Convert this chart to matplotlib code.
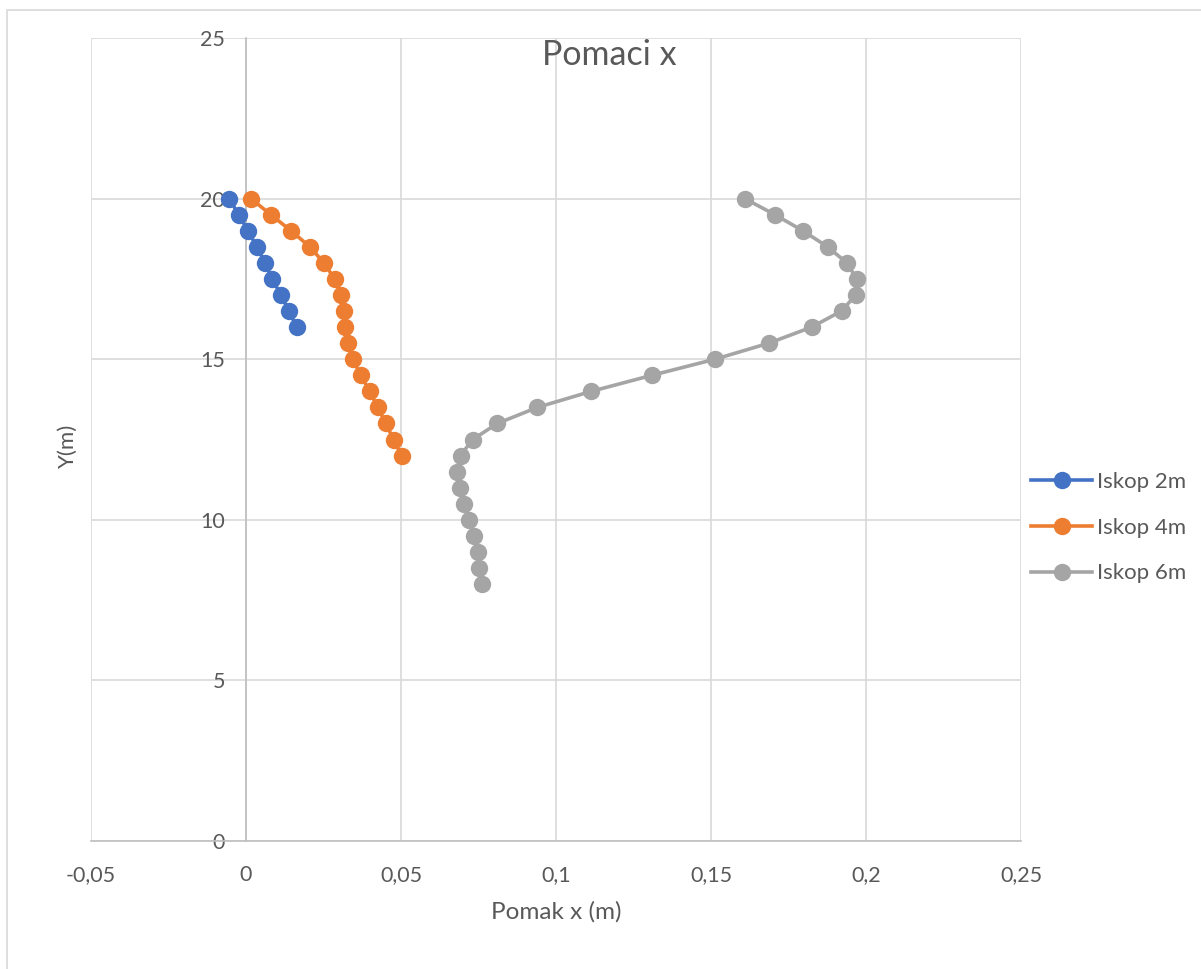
import matplotlib
matplotlib.use("Agg")
import matplotlib.pyplot as plt
from matplotlib.ticker import FuncFormatter, MultipleLocator
from matplotlib.patches import Rectangle

plt.rcParams['font.family'] = ['Lato', 'DejaVu Sans']

# ------------------------------
# DATA
# ------------------------------
y_2m = [20, 19.5, 19, 18.5, 18, 17.5, 17, 16.5, 16]
x_2m = [-0.0055, -0.0023, 0.0006, 0.0035, 0.0061, 0.0084, 0.0113, 0.0138, 0.0164]

y_4m = [20, 19.5, 19, 18.5, 18, 17.5, 17, 16.5, 16, 15.5, 15, 14.5, 14, 13.5, 13, 12.5, 12]
x_4m = [0.0016, 0.0080, 0.0145, 0.0206, 0.0251, 0.0286, 0.0306, 0.0315, 0.0319,
        0.0328, 0.0344, 0.0370, 0.0399, 0.0425, 0.0451, 0.0476, 0.0502]

y_6m = [20, 19.5, 19, 18.5, 18, 17.5, 17, 16.5, 16, 15.5, 15, 14.5, 14, 13.5, 13,
        12.5, 12, 11.5, 11, 10.5, 10, 9.5, 9, 8.5, 8]
x_6m = [0.1609, 0.1706, 0.1796, 0.1876, 0.1938, 0.1970, 0.1967, 0.1921, 0.1825,
        0.1687, 0.1513, 0.1310, 0.1114, 0.0940, 0.0811, 0.0731, 0.0692, 0.0682,
        0.0689, 0.0702, 0.0718, 0.0734, 0.0747, 0.0753, 0.0760]

series = [
    ("Iskop 2m", x_2m, y_2m, "#4472C4"),
    ("Iskop 4m", x_4m, y_4m, "#ED7D31"),
    ("Iskop 6m", x_6m, y_6m, "#A5A5A5"),
]

TEXT = "#595959"

# ------------------------------
# PLOT
# ------------------------------
fig = plt.figure(figsize=(12.01, 9.69), dpi=100)
ax = fig.add_axes([91 / 1201, 1 - 841 / 969, (1021 - 91) / 1201, (841 - 38) / 969])

# outer chart border
fig.patches.append(Rectangle((7 / 1201, -0.05), 1.2, 1 - 10 / 969 + 0.05,
                             transform=fig.transFigure, fill=False,
                             edgecolor="#D9D9D9", linewidth=1.2, zorder=0))

for name, xs, ys, col in series:
    ax.plot(xs, ys, color=col, lw=2.6, marker='o', ms=11.5, label=name, zorder=3)

ax.set_xlim(-0.05, 0.25)
ax.set_ylim(0, 25)
ax.xaxis.set_major_locator(MultipleLocator(0.05))
ax.yaxis.set_major_locator(MultipleLocator(5))

def comma(v, pos):
    s = f"{v:.2f}".rstrip('0').rstrip('.')
    if s in ("-0", ""):
        s = "0"
    return s.replace('.', ',')

ax.xaxis.set_major_formatter(FuncFormatter(comma))
ax.yaxis.set_major_formatter(FuncFormatter(lambda v, p: f"{v:.0f}"))

ax.grid(True, color="#D9D9D9", lw=1.2)
ax.set_axisbelow(True)
for s in ['top', 'right']:
    ax.spines[s].set_visible(False)
ax.spines['left'].set_position(('data', 0))
ax.spines['left'].set_color("#BFBFBF")
ax.spines['left'].set_linewidth(1.2)
ax.spines['bottom'].set_color("#BFBFBF")
ax.spines['bottom'].set_linewidth(1.2)

ax.tick_params(axis='both', length=0, labelsize=15.5, colors=TEXT)
ax.tick_params(axis='y', pad=15)
ax.tick_params(axis='x', pad=17)

ax.set_xlabel("Pomak x (m)", fontsize=17.5, color=TEXT, labelpad=12)
fig.text(68 / 1201, 1 - 446 / 969, "Y(m)", rotation=90, fontsize=16,
         color=TEXT, ha='center', va='center')

fig.text(609 / 1201, 1 - 55 / 969, "Pomaci x", fontsize=24.5, color=TEXT,
         ha='center', va='center')

ax.legend(loc='center left', bbox_to_anchor=(1.0, 0.39), frameon=False,
          fontsize=16, labelcolor=TEXT, handlelength=2.75,
          handletextpad=0.2, labelspacing=1.15, borderaxespad=0.05)

fig.savefig("out.png", dpi=100, facecolor="white")
